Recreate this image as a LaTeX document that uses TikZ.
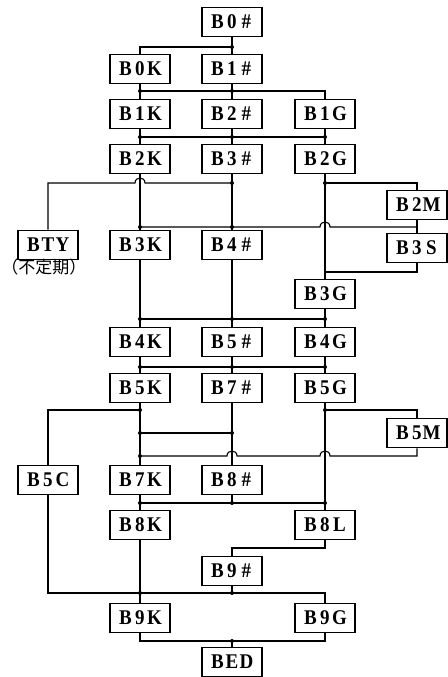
\documentclass[tikz,border=0pt]{standalone}
\usepackage{fontspec}
\usepackage{graphicx}
\setmainfont{Liberation Serif}
\newfontfamily\cjkfont{Noto Sans CJK JP}
\newcommand\tri[3]{\scalebox{1}[1.1]{\makebox[14.5pt]{#1}\makebox[14.5pt]{#2}\makebox[14.5pt]{#3}}}
\begin{document}
\begin{tikzpicture}[x=1pt,y=-1pt,
  blk/.style={draw,line width=1.8pt,minimum width=60pt,minimum height=29pt,inner sep=0pt,font=\fontsize{19}{22}\selectfont\bfseries},
  wire/.style={line width=1.1pt},
  jd/.style={circle,fill,inner sep=0pt,minimum size=4pt}]
\useasboundingbox (0,0) rectangle (447,677);
% nodes
\node[blk] (h0) at (232,22) {\tri B0\#};
\node[blk] (b0k) at (140,69) {\tri B0K};
\node[blk] (h1) at (232,69) {\tri B1\#};
\node[blk] (b1k) at (140,114) {\tri B1K};
\node[blk] (h2) at (232,114) {\tri B2\#};
\node[blk] (b1g) at (325,114) {\tri B1G};
\node[blk] (b2k) at (140,159) {\tri B2K};
\node[blk] (h3) at (232,159) {\tri B3\#};
\node[blk] (b2g) at (325,159) {\tri B2G};
\node[blk] (b2m) at (417,205) {\tri B2M};
\node[blk] (bty) at (48,245) {\tri BTY};
\node[font=\cjkfont\fontsize{17}{19}\selectfont] (btyl) at (44,267) {（不定期）};
\node[blk] (b3k) at (140,245) {\tri B3K};
\node[blk] (h4) at (232,245) {\tri B4\#};
\node[blk] (b3s) at (417,248) {\tri B3S};
\node[blk] (b3g) at (325,294) {\tri B3G};
\node[blk] (b4k) at (140,342) {\tri B4K};
\node[blk] (h5) at (232,342) {\tri B5\#};
\node[blk] (b4g) at (325,342) {\tri B4G};
\node[blk] (b5k) at (140,388) {\tri B5K};
\node[blk] (h7) at (232,388) {\tri B7\#};
\node[blk] (b5g) at (325,388) {\tri B5G};
\node[blk] (b5m) at (417,433) {\tri B5M};
\node[blk] (b5c) at (48,480) {\tri B5C};
\node[blk] (b7k) at (140,480) {\tri B7K};
\node[blk] (h8) at (232,480) {\tri B8\#};
\node[blk] (b8k) at (140,525) {\tri B8K};
\node[blk] (b8l) at (325,525) {\tri B8L};
\node[blk] (h9) at (232,571) {\tri B9\#};
\node[blk] (b9k) at (140,618) {\tri B9K};
\node[blk] (b9g) at (325,618) {\tri B9G};
\node[blk] (bed) at (232,662) {\tri BED};
% level coordinates
\foreach \v in {47,91,137,183,227,272,319,367,410,433,456,503,548,593,641}
  \coordinate (y\v) at (0,\v);
% B0# -> B0K, B1#
\draw[wire] (h0.south) -- (h1.north);
\draw[wire] (h0|-y47) -| (b0k.north);
\node[jd] at (h0|-y47) {};
% -> B1K, B2#, B1G
\draw[wire] (b0k.south) -- (b1k.north);
\draw[wire] (h1.south) -- (h2.north);
\draw[wire] (b0k|-y91) -| (b1g.north);
\node[jd] at (b0k|-y91) {};
\node[jd] at (h1|-y91) {};
% -> B2K, B3#, B2G
\draw[wire] (b1k.south) -- (b2k.north);
\draw[wire] (h2.south) -- (h3.north);
\draw[wire] (b1g.south) -- (b2g.north);
\draw[wire] (b1k|-y137) -- (b1g|-y137);
\node[jd] at (b1k|-y137) {};
\node[jd] at (h2|-y137) {};
\node[jd] at (b1g|-y137) {};
% B3# -> BTY with jump over B2K line
\draw[wire] (h3|-y183) -- (145,183) .. controls (145,176.3) and (135,176.3) .. (135,183) -- (bty|-y183) -- (bty.north);
\node[jd] at (h3|-y183) {};
\draw[wire] (b2k.south) -- (b3k.north);
\draw[wire] (h3.south) -- (h4.north);
\draw[wire] (b2g.south) -- (b3g.north);
\draw[wire] (b2g|-y183) -| (b2m.north);
\node[jd] at (b2g|-y183) {};
% B2M -> B3S and -> B3K, B4#
\draw[wire] (b2m.south) -- (b3s.north);
\draw[wire] (b2m|-y227) -- (330,227) .. controls (330,220.3) and (320,220.3) .. (320,227) -- (b3k|-y227);
\node[jd] at (h4|-y227) {};
\node[jd] at (b3k|-y227) {};
\draw[wire] (b3s.south) |- (b3g|-y272);
% -> B4K, B5#, B4G
\draw[wire] (b3k.south) -- (b4k.north);
\draw[wire] (h4.south) -- (h5.north);
\draw[wire] (b3g.south) -- (b4g.north);
\draw[wire] (b3k|-y319) -- (b3g|-y319);
\node[jd] at (b3k|-y319) {};
\node[jd] at (h4|-y319) {};
\node[jd] at (b3g|-y319) {};
% -> B5K, B7#, B5G
\draw[wire] (b4k.south) -- (b5k.north);
\draw[wire] (h5.south) -- (h7.north);
\draw[wire] (b4g.south) -- (b5g.north);
\draw[wire] (b4k|-y367) -- (b4g|-y367);
\node[jd] at (b4k|-y367) {};
\node[jd] at (h5|-y367) {};
\node[jd] at (b4g|-y367) {};
% B5K -> B5C, B7K ; B5G -> B5M, B8L
\draw[wire] (b5k.south) -- (b7k.north);
\draw[wire] (b5k|-y410) -| (b5c.north);
\node[jd] at (b5k|-y410) {};
\draw[wire] (h7.south) -- (h8.north);
\draw[wire] (b5g.south) -- (b8l.north);
\draw[wire] (b5g|-y410) -| (b5m.north);
\node[jd] at (b5g|-y410) {};
\draw[wire] (b5k|-y433) -- (h7|-y433);
\node[jd] at (b5k|-y433) {};
\node[jd] at (h7|-y433) {};
% B5M -> B7K with jumps
\draw[wire] (b5m.south) |- (330,456) .. controls (330,449.3) and (320,449.3) .. (320,456) -- (237,456) .. controls (237,449.3) and (227,449.3) .. (227,456) -- (b7k|-y456);
\node[jd] at (b7k|-y456) {};
% -> B8K, B8L
\draw[wire] (b7k.south) -- (b8k.north);
\draw[wire] (h8.south) -- (h8|-y503);
\draw[wire] (b7k|-y503) -- (b8l|-y503);
\node[jd] at (b7k|-y503) {};
\node[jd] at (h8|-y503) {};
\node[jd] at (b8l|-y503) {};
% B8L -> B9#
\draw[wire] (b8l.south) -- (b8l|-y548) -| (h9.north);
% -> B9K, B9G
\draw[wire] (b5c.south) |- (b9g|-y593) -- (b9g.north);
\draw[wire] (b8k.south) -- (b9k.north);
\draw[wire] (h9.south) -- (h9|-y593);
\node[jd] at (b9k|-y593) {};
\node[jd] at (h9|-y593) {};
% -> BED
\draw[wire] (b9k.south) |- (b9g|-y641) -- (b9g.south);
\draw[wire] (bed|-y641) -- (bed.north);
\node[jd] at (bed|-y641) {};
\end{tikzpicture}
\end{document}
